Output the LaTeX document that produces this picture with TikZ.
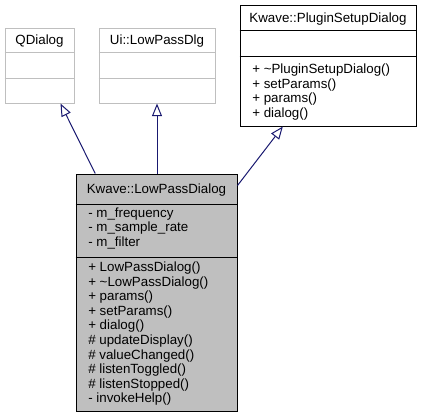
\documentclass[tikz,border=0pt]{standalone}
\usepackage{fontspec}
\setmainfont{Liberation Sans}
\usetikzlibrary{arrows.meta,fit,calc}
\definecolor{edgeblue}{HTML}{191970}
\definecolor{greyfill}{HTML}{BFBFBF}
\begin{document}
\begin{tikzpicture}[x=0.75pt,y=-0.75pt,
  font=\fontsize{10}{12}\selectfont,
  undoc/.style={draw=greyfill, fill=white, line width=0.75pt, inner sep=0pt},
  docbox/.style={draw=black, fill=white, line width=0.75pt, inner sep=0pt},
  curbox/.style={draw=black, fill=greyfill, line width=0.75pt, inner sep=0pt},
  lbl/.style={inner sep=0pt, anchor=base west},
  ttl/.style={inner sep=0pt, anchor=base},
  inh/.style={draw=edgeblue, line width=0.75pt, -{Triangle[open, length=9.5pt, width=7.5pt]}}]
\useasboundingbox (0,0) rectangle (423,419);

% QDialog
\node[undoc, fit={(5,28) (74,103)}] (qd) {};
\draw[greyfill, line width=0.75pt] (qd.west |- 0,52) -- (qd.east |- 0,52);
\draw[greyfill, line width=0.75pt] (qd.west |- 0,78) -- (qd.east |- 0,78);
\node[ttl] (qdt) at (39.5,44.5) {QDialog};

% Ui::LowPassDlg
\node[undoc, fit={(99,28) (215,103)}] (ui) {};
\draw[greyfill, line width=0.75pt] (ui.west |- 0,52) -- (ui.east |- 0,52);
\draw[greyfill, line width=0.75pt] (ui.west |- 0,78) -- (ui.east |- 0,78);
\node[ttl] (uit) at (157,44.5) {Ui::LowPassDlg};

% Kwave::PluginSetupDialog
\node[docbox, fit={(240,5) (416,126)}] (ps) {};
\draw[line width=0.75pt] (ps.west |- 0,30) -- (ps.east |- 0,30);
\draw[line width=0.75pt] (ps.west |- 0,56) -- (ps.east |- 0,56);
\node[ttl] (pst) at (328,22.5) {Kwave::PluginSetupDialog};
\foreach \t [count=\i from 0] in {+ \textasciitilde PluginSetupDialog(), + setParams(), + params(), + dialog()}
  \node[lbl] (pm\i) at (252,73.5+14.5*\i) {\t};

% Kwave::LowPassDialog
\node[curbox, fit={(76,174) (237,411)}] (lp) {};
\draw[line width=0.75pt] (lp.west |- 0,204) -- (lp.east |- 0,204);
\draw[line width=0.75pt] (lp.west |- 0,257) -- (lp.east |- 0,257);
\node[ttl] (lpt) at (156.5,193) {Kwave::LowPassDialog};
\foreach \t [count=\i from 0] in {- m\_frequency, - m\_sample\_rate, - m\_filter}
  \node[lbl] (la\i) at (88,217+14.5*\i) {\t};
\foreach \t [count=\i from 0] in {+ LowPassDialog(), + \textasciitilde LowPassDialog(), + params(), + setParams(), + dialog(), \# updateDisplay(), \# valueChanged(), \# listenToggled(), \# listenStopped(), - invokeHelp()}
  \node[lbl] (lm\i) at (88,271.5+14.6*\i) {\t};

% inheritance
\draw[inh] ([xshift=14.8pt]lp.north west) -- ([xshift=-10.5pt]qd.south east);
\draw[inh] (lp.north -| ui.south) -- (ui.south);
\draw[inh] ([yshift=-9pt]lp.north east) -- ([xshift=32.5pt]ps.south west);
\end{tikzpicture}
\end{document}
